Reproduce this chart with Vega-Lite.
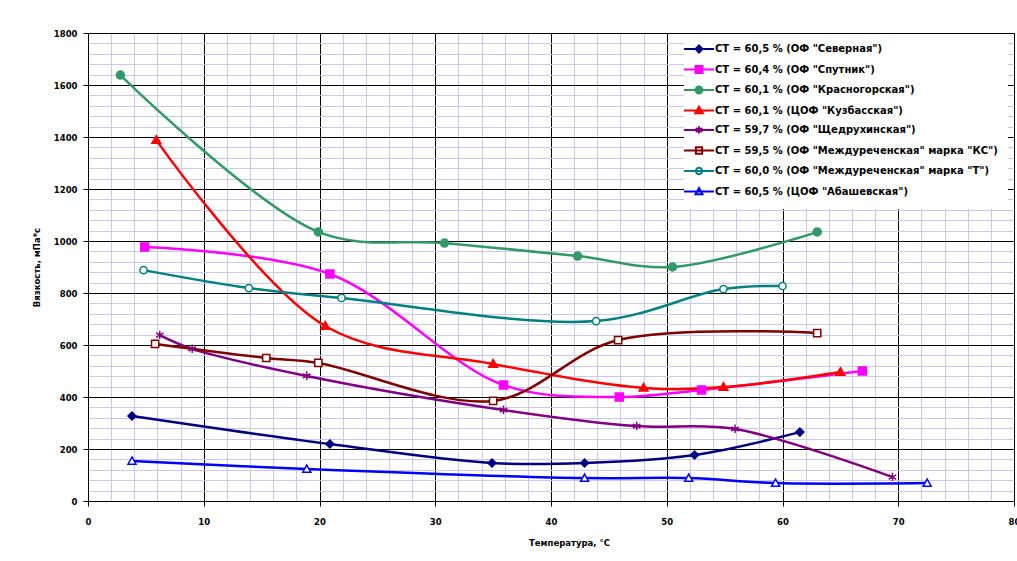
{
  "$schema": "https://vega.github.io/schema/vega-lite/v6.json",
  "width": 926,
  "height": 468,
  "autosize": {"type": "none"},
  "padding": {"left": 88, "top": 33, "right": 3, "bottom": 60},
  "background": "white",
  "config": {"view": {"stroke": "black", "strokeWidth": 1}},
  "data": {
    "values": [
      {"series": "СТ = 60,5 % (ОФ \"Северная\")", "t": 3.8, "v": 327},
      {"series": "СТ = 60,5 % (ОФ \"Северная\")", "t": 20.9, "v": 219},
      {"series": "СТ = 60,5 % (ОФ \"Северная\")", "t": 34.9, "v": 146},
      {"series": "СТ = 60,5 % (ОФ \"Северная\")", "t": 42.9, "v": 146},
      {"series": "СТ = 60,5 % (ОФ \"Северная\")", "t": 52.4, "v": 177},
      {"series": "СТ = 60,5 % (ОФ \"Северная\")", "t": 61.5, "v": 265},
      {"series": "СТ = 60,4 % (ОФ \"Спутник\")", "t": 4.9, "v": 977},
      {"series": "СТ = 60,4 % (ОФ \"Спутник\")", "t": 20.9, "v": 873},
      {"series": "СТ = 60,4 % (ОФ \"Спутник\")", "t": 35.9, "v": 446},
      {"series": "СТ = 60,4 % (ОФ \"Спутник\")", "t": 45.9, "v": 400},
      {"series": "СТ = 60,4 % (ОФ \"Спутник\")", "t": 53, "v": 427},
      {"series": "СТ = 60,4 % (ОФ \"Спутник\")", "t": 66.9, "v": 500},
      {"series": "СТ = 60,1 % (ОФ \"Красногорская\")", "t": 2.8, "v": 1638},
      {"series": "СТ = 60,1 % (ОФ \"Красногорская\")", "t": 19.9, "v": 1035},
      {"series": "СТ = 60,1 % (ОФ \"Красногорская\")", "t": 30.8, "v": 992},
      {"series": "СТ = 60,1 % (ОФ \"Красногорская\")", "t": 42.3, "v": 942},
      {"series": "СТ = 60,1 % (ОФ \"Красногорская\")", "t": 50.5, "v": 900},
      {"series": "СТ = 60,1 % (ОФ \"Красногорская\")", "t": 63, "v": 1035},
      {"series": "СТ = 60,1 % (ЦОФ \"Кузбасская\")", "t": 5.9, "v": 1388},
      {"series": "СТ = 60,1 % (ЦОФ \"Кузбасская\")", "t": 20.5, "v": 673},
      {"series": "СТ = 60,1 % (ЦОФ \"Кузбасская\")", "t": 35, "v": 527},
      {"series": "СТ = 60,1 % (ЦОФ \"Кузбасская\")", "t": 48, "v": 435},
      {"series": "СТ = 60,1 % (ЦОФ \"Кузбасская\")", "t": 54.9, "v": 438},
      {"series": "СТ = 60,1 % (ЦОФ \"Кузбасская\")", "t": 65, "v": 496},
      {"series": "СТ = 59,7 % (ОФ \"Щедрухинская\")", "t": 6.2, "v": 638},
      {"series": "СТ = 59,7 % (ОФ \"Щедрухинская\")", "t": 9, "v": 585},
      {"series": "СТ = 59,7 % (ОФ \"Щедрухинская\")", "t": 18.9, "v": 481},
      {"series": "СТ = 59,7 % (ОФ \"Щедрухинская\")", "t": 35.9, "v": 350},
      {"series": "СТ = 59,7 % (ОФ \"Щедрухинская\")", "t": 47.4, "v": 288},
      {"series": "СТ = 59,7 % (ОФ \"Щедрухинская\")", "t": 55.9, "v": 277},
      {"series": "СТ = 59,7 % (ОФ \"Щедрухинская\")", "t": 69.5, "v": 92},
      {"series": "СТ = 59,5 % (ОФ \"Междуреченская\" марка \"КС\")", "t": 5.8, "v": 604},
      {"series": "СТ = 59,5 % (ОФ \"Междуреченская\" марка \"КС\")", "t": 15.4, "v": 550},
      {"series": "СТ = 59,5 % (ОФ \"Междуреченская\" марка \"КС\")", "t": 19.9, "v": 531},
      {"series": "СТ = 59,5 % (ОФ \"Междуреченская\" марка \"КС\")", "t": 35, "v": 385},
      {"series": "СТ = 59,5 % (ОФ \"Междуреченская\" марка \"КС\")", "t": 45.8, "v": 619},
      {"series": "СТ = 59,5 % (ОФ \"Междуреченская\" марка \"КС\")", "t": 63, "v": 646},
      {"series": "СТ = 60,0 % (ОФ \"Междуреченская\" марка \"Т\")", "t": 4.8, "v": 888},
      {"series": "СТ = 60,0 % (ОФ \"Междуреченская\" марка \"Т\")", "t": 13.9, "v": 819},
      {"series": "СТ = 60,0 % (ОФ \"Междуреченская\" марка \"Т\")", "t": 21.9, "v": 781},
      {"series": "СТ = 60,0 % (ОФ \"Междуреченская\" марка \"Т\")", "t": 43.9, "v": 692},
      {"series": "СТ = 60,0 % (ОФ \"Междуреченская\" марка \"Т\")", "t": 54.9, "v": 815},
      {"series": "СТ = 60,0 % (ОФ \"Междуреченская\" марка \"Т\")", "t": 60, "v": 827},
      {"series": "СТ = 60,5 % (ЦОФ \"Абашевская\")", "t": 3.8, "v": 154},
      {"series": "СТ = 60,5 % (ЦОФ \"Абашевская\")", "t": 18.9, "v": 123},
      {"series": "СТ = 60,5 % (ЦОФ \"Абашевская\")", "t": 42.9, "v": 88},
      {"series": "СТ = 60,5 % (ЦОФ \"Абашевская\")", "t": 51.9, "v": 88},
      {"series": "СТ = 60,5 % (ЦОФ \"Абашевская\")", "t": 59.4, "v": 69},
      {"series": "СТ = 60,5 % (ЦОФ \"Абашевская\")", "t": 72.5, "v": 69}
    ]
  },
  "layer": [
    {
      "mark": {"type": "line", "interpolate": "catmull-rom", "strokeWidth": 2.5},
      "encoding": {
        "x": {
          "field": "t", "type": "quantitative",
          "scale": {"domain": [0, 80], "nice": false, "zero": false},
          "axis": {
            "orient": "top", "title": null, "labels": false, "ticks": false, "domain": false,
            "grid": true, "gridColor": "#c8c8f0", "gridWidth": 1, "gridOpacity": 1,
            "values": [2,4,6,8,12,14,16,18,22,24,26,28,32,34,36,38,42,44,46,48,52,54,56,58,62,64,66,68,72,74,76,78]
          }
        },
        "y": {
          "field": "v", "type": "quantitative",
          "scale": {"domain": [0, 1800], "nice": false, "zero": false},
          "axis": {
            "orient": "right", "title": null, "labels": false, "ticks": false, "domain": false,
            "grid": true, "gridColor": "#c8c8f0", "gridWidth": 1, "gridOpacity": 1,
            "values": [40,80,120,160,240,280,320,360,440,480,520,560,640,680,720,760,840,880,920,960,1040,1080,1120,1160,1240,1280,1320,1360,1440,1480,1520,1560,1640,1680,1720,1760]
          }
        },
        "stroke": {
          "field": "series", "type": "nominal",
          "scale": {
            "domain": [
              "СТ = 60,5 % (ОФ \"Северная\")",
              "СТ = 60,4 % (ОФ \"Спутник\")",
              "СТ = 60,1 % (ОФ \"Красногорская\")",
              "СТ = 60,1 % (ЦОФ \"Кузбасская\")",
              "СТ = 59,7 % (ОФ \"Щедрухинская\")",
              "СТ = 59,5 % (ОФ \"Междуреченская\" марка \"КС\")",
              "СТ = 60,0 % (ОФ \"Междуреченская\" марка \"Т\")",
              "СТ = 60,5 % (ЦОФ \"Абашевская\")"
            ],
            "range": ["#000080", "#ff00ff", "#339966", "#ff0000", "#800080", "#800000", "#008080", "#0000ff"]
          },
          "legend": {
            "title": null, "orient": "none", "legendX": 596, "legendY": 1, "padding": 10,
            "fillColor": "white", "symbolSize": 49, "symbolStrokeWidth": 2,
            "labelFont": "DejaVu Sans", "labelFontSize": 10, "labelFontWeight": "bold", "labelColor": "black",
            "labelOffset": 11, "rowPadding": 4.5, "labelLimit": 400,
            "encode": {
              "symbols": {
                "update": {
                  "shape": {"signal": "'M-4.3,0H4.3' + scale('shape', datum.value)"},
                  "fill": {"signal": "scale('fill', datum.value)"},
                  "strokeWidth": {"value": 2}
                }
              }
            }
          }
        }
      }
    },
    {
      "mark": {"type": "point", "size": 64, "strokeWidth": 1.5, "opacity": 1},
      "encoding": {
        "x": {
          "field": "t", "type": "quantitative",
          "axis": {
            "orient": "bottom", "title": "Температура, °С",
            "values": [0,10,20,30,40,50,60,70,80],
            "grid": true, "gridColor": "black", "gridWidth": 1, "gridOpacity": 1,
            "domainColor": "black", "domainWidth": 1, "tickColor": "black", "tickSize": 5,
            "labelFont": "DejaVu Sans", "labelFontSize": 8.5, "labelFontWeight": "bold", "labelColor": "black",
            "labelPadding": 11, "labelFlush": false,
            "titleFont": "DejaVu Sans", "titleFontSize": 8.5, "titleFontWeight": "bold", "titleColor": "black",
            "titlePadding": 13, "titleX": 481
          }
        },
        "y": {
          "field": "v", "type": "quantitative",
          "axis": {
            "orient": "left", "title": "Вязкость, мПа*с", "format": "d",
            "values": [0,200,400,600,800,1000,1200,1400,1600,1800],
            "grid": true, "gridColor": "black", "gridWidth": 1, "gridOpacity": 1,
            "domainColor": "black", "domainWidth": 1, "tickColor": "black", "tickSize": 5,
            "labelFont": "DejaVu Sans", "labelFontSize": 8.5, "labelFontWeight": "bold", "labelColor": "black",
            "labelPadding": 6, "labelFlush": false,
            "titleFont": "DejaVu Sans", "titleFontSize": 8.5, "titleFontWeight": "bold", "titleColor": "black",
            "titlePadding": 12
          }
        },
        "stroke": {
          "field": "series", "type": "nominal",
          "legend": {
            "title": null, "orient": "none", "legendX": 596, "legendY": 1, "padding": 10,
            "fillColor": "white", "symbolSize": 49, "symbolStrokeWidth": 2,
            "labelFont": "DejaVu Sans", "labelFontSize": 10, "labelFontWeight": "bold", "labelColor": "black",
            "labelOffset": 11, "rowPadding": 4.5, "labelLimit": 400,
            "encode": {
              "symbols": {
                "update": {
                  "shape": {"signal": "'M-4.3,0H4.3' + scale('shape', datum.value)"},
                  "fill": {"signal": "scale('fill', datum.value)"},
                  "strokeWidth": {"value": 2}
                }
              }
            }
          }
        },
        "fill": {
          "field": "series", "type": "nominal",
          "scale": {
            "domain": [
              "СТ = 60,4 % (ОФ \"Спутник\")",
              "СТ = 60,1 % (ОФ \"Красногорская\")",
              "СТ = 60,1 % (ЦОФ \"Кузбасская\")",
              "СТ = 59,7 % (ОФ \"Щедрухинская\")",
              "СТ = 59,5 % (ОФ \"Междуреченская\" марка \"КС\")",
              "СТ = 60,0 % (ОФ \"Междуреченская\" марка \"Т\")",
              "СТ = 60,5 % (ЦОФ \"Абашевская\")",
              "СТ = 60,5 % (ОФ \"Северная\")"
            ],
            "range": ["#ff00ff", "#339966", "#ff0000", "white", "white", "white", "white", "#000080"]
          },
          "legend": null
        },
        "shape": {
          "field": "series", "type": "nominal",
          "scale": {
            "domain": [
              "СТ = 60,5 % (ЦОФ \"Абашевская\")",
              "СТ = 60,0 % (ОФ \"Междуреченская\" марка \"Т\")",
              "СТ = 59,5 % (ОФ \"Междуреченская\" марка \"КС\")",
              "СТ = 59,7 % (ОФ \"Щедрухинская\")",
              "СТ = 60,1 % (ЦОФ \"Кузбасская\")",
              "СТ = 60,1 % (ОФ \"Красногорская\")",
              "СТ = 60,4 % (ОФ \"Спутник\")",
              "СТ = 60,5 % (ОФ \"Северная\")"
            ],
            "range": [
              "M0,-1L1,0.8H-1Z",
              "M-0.9,0A0.9,0.9 0 1,0 0.9,0A0.9,0.9 0 1,0 -0.9,0Z",
              "M-0.9,-0.9H0.9V0.9H-0.9Z",
              "M0,-1.1V1M-0.95,-0.55L0.95,0.55M-0.95,0.55L0.95,-0.55",
              "M0,-1.1L1.1,0.8H-1.1Z",
              "M-1,0A1,1 0 1,0 1,0A1,1 0 1,0 -1,0Z",
              "M-1,-1H1V1H-1Z",
              "M0,-1L1,0L0,1L-1,0Z"
            ]
          },
          "legend": null
        }
      }
    }
  ],
  "resolve": {"axis": {"x": "independent", "y": "independent"}}
}
